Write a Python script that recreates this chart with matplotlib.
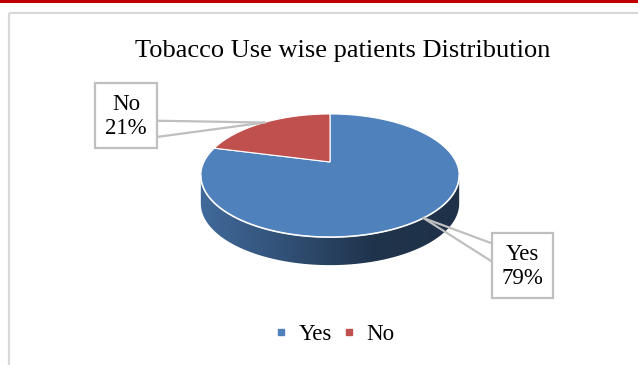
import numpy as np
import matplotlib.pyplot as plt
from matplotlib.patches import Polygon, Rectangle
from matplotlib.colors import LinearSegmentedColormap, to_rgb
from matplotlib.lines import Line2D

title = "Tobacco Use wise patients Distribution"
labels = ["Yes", "No"]
values = [79, 21]
colors = ["#4f81bd", "#c0504d"]

# pie geometry (pixels), with a little perspective like the Excel 3D pie
cx, cy = 330, 162
A, B = 126, 58.6
p = 0.22
depth = 28

serif = "Liberation Serif"


def proj(theta, r=1.0, dz=0.0):
    t = np.radians(theta)
    den = 1 + p * r * np.sin(t)
    x = cx + A * r * np.cos(t) / den
    y = cy - B * r * np.sin(t) / den + dz
    return x, y


fig = plt.figure(figsize=(6.38, 3.65), dpi=100)
ax = fig.add_axes([0, 0, 1, 1])
ax.set_xlim(0, 638)
ax.set_ylim(365, 0)
ax.axis("off")

# page decoration: red rule and chart frame
ax.add_patch(Rectangle((0, 0), 638, 3, color="#c00000", lw=0))
ax.plot([9, 9], [13, 365], color="#d9d9d9", lw=1.6, solid_capstyle="butt")
ax.plot([9, 638], [13, 13], color="#d9d9d9", lw=1.6, solid_capstyle="butt")

ax.text(343, 51, title, ha="center", va="center", fontsize=19, family=serif)

total = sum(values)
start = 90.0
slices = []
for lab, v, c in zip(labels, values, colors):
    sweep = 360.0 * v / total
    slices.append((lab, v, c, start - sweep, start))
    start -= sweep

# visible front side range
a = np.degrees(np.arcsin(p))
th_l, th_r = 180 + a, 360 - a

for lab, v, c, t1, t2 in slices:
    for k in (-360, 0, 360):
        lo = max(t1, th_l + k)
        hi = min(t2, th_r + k)
        if hi <= lo:
            continue
        th = np.linspace(lo, hi, 200)
        xt, yt = proj(th)
        xb, yb = proj(th, dz=depth)
        pts = np.column_stack([np.r_[xt, xb[::-1]], np.r_[yt, yb[::-1]]])
        poly = Polygon(pts, closed=True, fc="none", ec="none")
        ax.add_patch(poly)
        rgb = np.array(to_rgb(c))
        cmap = LinearSegmentedColormap.from_list(
            "side", [rgb * 0.82, rgb * 0.62, rgb * 0.4, rgb * 0.38])
        im = ax.imshow(np.linspace(0, 1, 256).reshape(1, -1), cmap=cmap,
                       extent=[cx - A * 1.03, cx + A * 1.03, cy + 120, cy - 10],
                       aspect="auto", interpolation="bilinear", zorder=1)
        im.set_clip_path(poly)

for lab, v, c, t1, t2 in slices:
    th = np.linspace(t1, t2, 300)
    xs, ys = proj(th)
    pts = np.column_stack([np.r_[cx, xs], np.r_[cy, ys]])
    ax.add_patch(Polygon(pts, closed=True, fc=c, ec="white", lw=0.8, zorder=2))

# light rim along the front edge
th = np.linspace(th_l, th_r, 300)
xs, ys = proj(th)
ax.plot(xs, ys, color="white", lw=1.2, alpha=0.85, zorder=3)

# callout labels
boxes = {"No": (95, 83, 157, 148), "Yes": (492, 233, 553, 298)}
for lab, v, c, t1, t2 in slices:
    x0, y0, x1, y1 = boxes[lab]
    tx, ty = proj((t1 + t2) / 2)
    pct = round(100 * v / total)
    if tx < cx:
        ex = x1
        ey = (y0 + 0.58 * (y1 - y0), y0 + 0.83 * (y1 - y0))
    else:
        ex = x0
        ey = (y0 + 0.16 * (y1 - y0), y0 + 0.44 * (y1 - y0))
    for e in ey:
        ax.plot([ex, tx], [e, ty], color="#bfbfbf", lw=1.6, zorder=4)
    ax.add_patch(Rectangle((x0, y0), x1 - x0, y1 - y0, fc="white",
                           ec="#bfbfbf", lw=1.6, zorder=5))
    ax.text((x0 + x1) / 2, (y0 + y1) / 2 + 1, f"{lab}\n{pct}%", ha="center",
            va="center", fontsize=16.5, family=serif, linespacing=1.25, zorder=6)

handles = [Line2D([], [], marker="s", ls="", color=c, markersize=4) for c in colors]
fig.legend(handles, labels, loc="center", bbox_to_anchor=(334 / 638, 1 - 334 / 365),
           ncol=2, frameon=False, prop={"family": serif, "size": 16.5},
           handlelength=0.7, handletextpad=0.4, columnspacing=0.4)

fig.savefig("out.png", dpi=100)
